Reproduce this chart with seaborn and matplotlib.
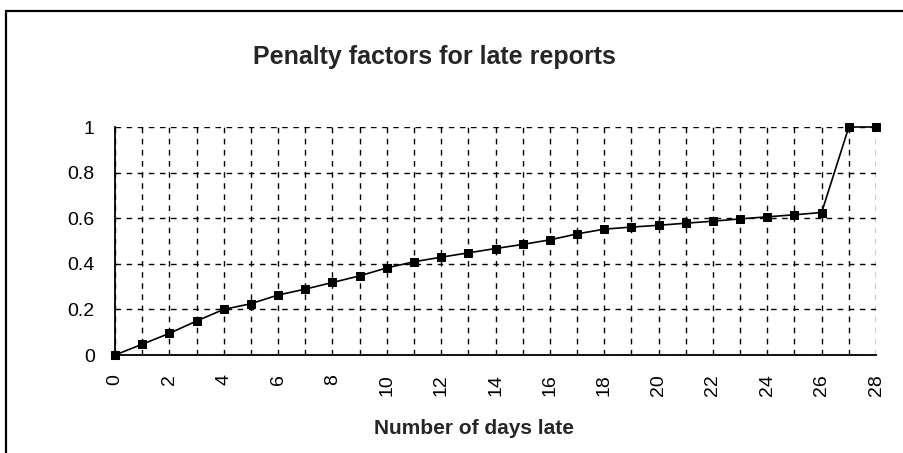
import seaborn as sns
import matplotlib.pyplot as plt
import pandas as pd
from matplotlib.patches import Rectangle

# Penalty factor per number of days late
days = list(range(29))
penalty = [0.0, 0.047, 0.095, 0.149, 0.2, 0.225, 0.263, 0.289, 0.318, 0.347,
           0.382, 0.409, 0.429, 0.448, 0.467, 0.485, 0.505, 0.531, 0.552, 0.561,
           0.569, 0.578, 0.587, 0.597, 0.606, 0.615, 0.625, 1.0, 1.0]
y_ticks = [0, 0.2, 0.4, 0.6, 0.8, 1]
y_labels = ["0", "0.2", "0.4", "0.6", "0.8", "1"]

df = pd.DataFrame({"days": days, "penalty": penalty})

sns.set_style("white")
plt.rcParams["font.family"] = ["Liberation Sans", "DejaVu Sans"]

fig = plt.figure(figsize=(9.04, 4.53), dpi=100)
# outer chart frame (runs off the right and bottom edges)
fig.patches.append(Rectangle((6 / 904, -0.1), 1.2, 1.1 - 11 / 453,
                             transform=fig.transFigure, fill=False,
                             edgecolor="black", linewidth=1.6))

ax = fig.add_axes([115 / 904, 1 - 355 / 453, (876 - 115) / 904, (355 - 127) / 453])
sns.lineplot(data=df, x="days", y="penalty", ax=ax, color="black", linewidth=1.2,
             marker="s", markersize=6, markeredgecolor="black", clip_on=False, zorder=5)

ax.set_xlim(0, 28)
ax.set_ylim(0, 1)
ax.set_xticks(days)
ax.set_xticklabels([str(d) if d % 2 == 0 else "" for d in days], rotation=90)
ax.set_yticks(y_ticks)
ax.set_yticklabels(y_labels)
ax.tick_params(axis="both", direction="inout", length=7, width=1, color="black",
               labelsize=14, labelcolor="black")
ax.tick_params(axis="x", pad=10)
ax.tick_params(axis="y", pad=11)
ax.grid(True, color="black", linestyle=(0, (4, 4)), linewidth=1)
for s in ["top", "right"]:
    ax.spines[s].set_visible(False)
for s in ["left", "bottom"]:
    ax.spines[s].set_color("black")
    ax.spines[s].set_linewidth(1.3)

ax.set_xlabel("")
ax.set_ylabel("")
fig.text(474 / 904, 1 - 434 / 453, "Number of days late",
         fontsize=15, fontweight="bold", ha="center", va="baseline")
fig.text(434 / 904, 1 - 57 / 453, "Penalty factors for late reports",
         fontsize=18, fontweight="bold", ha="center", va="center")

fig.savefig("out.png", dpi=100)
